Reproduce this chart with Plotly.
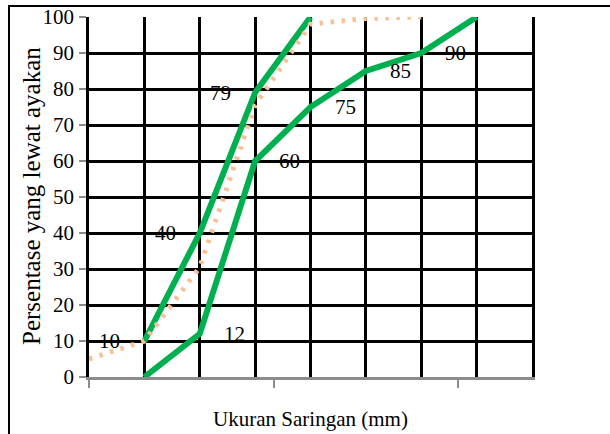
import plotly.graph_objects as go

# Data
x_pos = [0, 1, 2, 3, 4, 5, 6, 7, 8]
upper_x = [1, 2, 3, 4]
upper_y = [10, 40, 79, 100]
upper_labels = ["10", "40", "79", ""]
lower_x = [1, 2, 3, 4, 5, 6, 7]
lower_y = [0, 12, 60, 75, 85, 90, 100]
lower_labels = ["", "12", "60", "75", "85", "90", ""]
actual_x = [0, 1, 2, 3, 4, 5, 6]
actual_y = [5, 10, 30.5, 75.5, 98, 99.6, 100]
y_ticks = [0, 10, 20, 30, 40, 50, 60, 70, 80, 90, 100]

FONT = "Liberation Serif"
GREEN = "#00B050"
PEACH = "#F7C29A"

fig = go.Figure()
fig.add_trace(go.Scatter(x=lower_x, y=lower_y, mode="lines",
                         line=dict(color=GREEN, width=6), name="Batas bawah"))
fig.add_trace(go.Scatter(x=upper_x, y=upper_y, mode="lines",
                         line=dict(color=GREEN, width=6), name="Batas atas"))
fig.add_trace(go.Scatter(x=actual_x, y=actual_y, mode="lines", yaxis="y2",
                         line=dict(color=PEACH, width=5, dash="3.5px,7.5px"),
                         name="Gradasi"))

W, H = 610, 434
L, R, T, B = 60, 78, 17, 57
AX = 89          # pixel of the plot's left edge
pw, ph = W - L - R, H - T - B

ann = []
for xv, yv, t in zip(upper_x, upper_y, upper_labels):
    if t:
        ann.append(dict(x=xv, y=yv, text=t, showarrow=False, xanchor="right",
                        yanchor="middle", xshift=-22,
                        font=dict(family=FONT, size=21, color="black")))
for xv, yv, t in zip(lower_x, lower_y, lower_labels):
    if t:
        ann.append(dict(x=xv, y=yv, text=t, showarrow=False, xanchor="left",
                        yanchor="middle", xshift=22,
                        font=dict(family=FONT, size=21, color="black")))
# y-axis title
ann.append(dict(xref="paper", yref="paper", x=(31 - L) / pw, y=(H - B - 196) / ph,
                text="Persentase yang lewat ayakan", textangle=-90, showarrow=False,
                xanchor="center", yanchor="middle",
                font=dict(family=FONT, size=25, color="black")))

shapes = [dict(type="rect", xref="paper", yref="paper",
               x0=(9 - L) / pw, x1=(640 - L) / pw,
               y0=(H - B - 460) / ph, y1=(H - B - 6) / ph,
               line=dict(color="black", width=2), layer="above")]

fig.update_layout(
    width=W, height=H,
    margin=dict(l=L, r=R, t=T, b=B, autoexpand=False),
    paper_bgcolor="white", plot_bgcolor="white",
    showlegend=False,
    annotations=ann,
    shapes=shapes,
    xaxis=dict(domain=[(AX - L) / pw, 1], range=[0, 8],
               tickvals=[0, 10 / 3, 20 / 3], showticklabels=False,
               ticks="outside", ticklen=8, tickwidth=2, tickcolor="#8c8c8c",
               showline=True, linecolor="#8c8c8c", linewidth=3,
               showgrid=False, zeroline=False,
               minor=dict(tickvals=x_pos, showgrid=True, gridcolor="black",
                          gridwidth=3, ticks=""),
               title=dict(text="Ukuran Saringan (mm)", standoff=25,
                          font=dict(family=FONT, size=21, color="black"))),
    yaxis=dict(range=[0, 100], tickvals=y_ticks, showticklabels=False,
               ticks="outside", ticklen=7, tickwidth=2, tickcolor="#8c8c8c",
               showline=True, linecolor="black", linewidth=3, mirror=True,
               showgrid=True, gridcolor="black", gridwidth=3, zeroline=False),
    yaxis2=dict(range=[0, 100], tickvals=y_ticks, overlaying="y", side="left",
                anchor="free", position=(74 - L) / pw, ticks="",
                tickfont=dict(family=FONT, size=21, color="black"),
                showline=False, showgrid=False, zeroline=False),
)

fig.write_html("out.html",
               config={"displayModeBar": False, "staticPlot": True},
               post_script="document.body.style.margin='0';document.body.style.overflow='hidden';")
